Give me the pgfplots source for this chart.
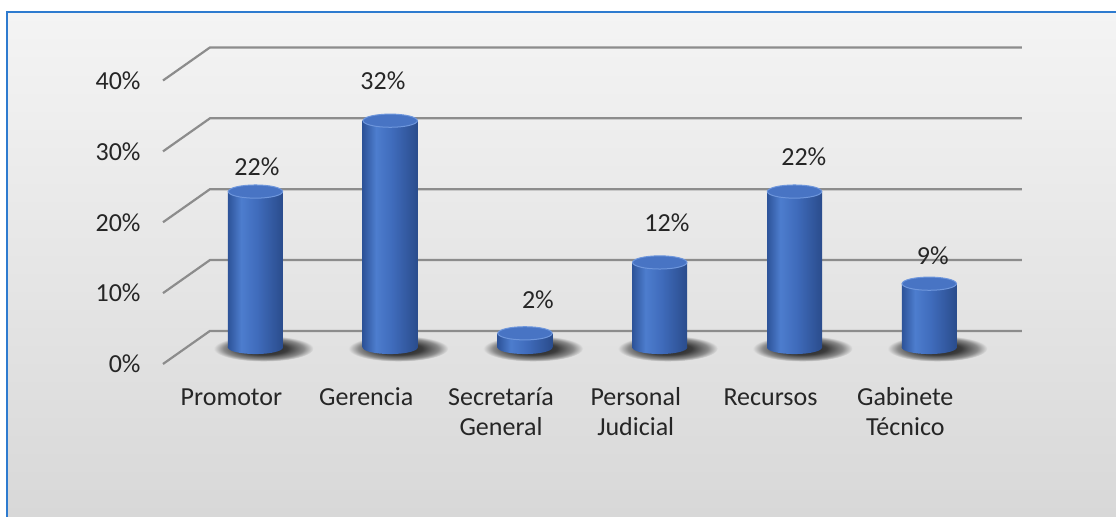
\documentclass[border=0pt]{standalone}
\usepackage{pgfplots}
\usepackage{pgfplotstable}
\pgfplotsset{compat=1.18}
\usepackage{fontspec}
\setmainfont{Carlito}
\definecolor{cylA}{HTML}{2D5399}
\definecolor{cylC}{HTML}{4D7DCE}
\definecolor{cylB}{HTML}{3F6BBB}
\definecolor{cylD}{HTML}{2A4C8C}
\definecolor{topcol}{HTML}{4874C4}
\definecolor{toprim}{HTML}{6E96DC}
\definecolor{bgtop}{HTML}{F4F4F4}
\definecolor{bgbot}{HTML}{D8D8D8}
\definecolor{bgmid}{HTML}{E1E1E1}
\definecolor{shA}{HTML}{1E1E1E}
\definecolor{shB}{HTML}{3C3C3C}
\definecolor{shC}{HTML}{8A8A8A}
\definecolor{gridcol}{HTML}{8C8C8C}
\definecolor{framecol}{HTML}{2E7BCF}
\definecolor{txt}{HTML}{262626}
\pgfdeclarehorizontalshading{cyl}{100bp}{color(0bp)=(cylA); color(25bp)=(cylA); color(37bp)=(cylC); color(52bp)=(cylB); color(75bp)=(cylD); color(100bp)=(cylD)}
\pgfdeclareradialshading{shad}{\pgfpointorigin}{color(0bp)=(shA); color(12bp)=(shB); color(20bp)=(shC); color(25bp)=(bgmid); color(50bp)=(bgmid)}
\pgfdeclareplotmark{shadowmark}{%
  \pgfpathellipse{\pgfpointorigin}{\pgfqpoint{25pt}{0pt}}{\pgfqpoint{0pt}{6.5pt}}%
  \pgfshadepath{shad}{0}%
  \pgfusepath{}%
}
\pgfdeclareplotmark{cylbottom}{%
  \pgfpathmoveto{\pgfqpoint{-13.75pt}{0.6pt}}%
  \pgfpathlineto{\pgfqpoint{-13.75pt}{0pt}}%
  \pgfpatharc{180}{360}{13.75pt and 3.3pt}%
  \pgfpathlineto{\pgfqpoint{13.75pt}{0.6pt}}%
  \pgfpathclose
  \pgfshadepath{cyl}{0}%
  \pgfusepath{}%
}
\pgfdeclareplotmark{cyltop}{%
  \pgfpathellipse{\pgfpointorigin}{\pgfqpoint{13.6pt}{0pt}}{\pgfqpoint{0pt}{3.3pt}}%
  \pgfusepathqfillstroke
}
\pgfplotstableread{
x y
0 22
1 32
2 2
3 12
4 22
5 9
}\bars
\pgfplotstableread{
x y
0.06 -0.15
1.06 -0.15
2.06 -0.15
3.06 -0.15
4.06 -0.15
5.06 -0.15
}\shadows
\pgfplotstableread{
x y
0 0
1 0
2 0
3 0
4 0
5 0
}\bases
\pgfplotstableread{
x y lab
0.011 25.47 22
0.946 37.60 32
2.096 6.70 2
3.053 17.57 12
4.069 26.88 22
5.026 12.91 9
}\labs
\pgfplotstableread{
x y
-0.686 -2.33
-0.338 2.33
5.688 2.33
nan nan
-0.686 7.67
-0.338 12.33
5.688 12.33
nan nan
-0.686 17.67
-0.338 22.33
5.688 22.33
nan nan
-0.686 27.67
-0.338 32.33
5.688 32.33
nan nan
-0.686 37.67
-0.338 42.33
5.688 42.33
}\grid
\begin{document}
\begin{tikzpicture}
\useasboundingbox (0pt,0pt) rectangle (558pt,258.5pt);
\fill[white] (0pt,0pt) rectangle (558pt,258.5pt);
\shade[top color=bgtop, bottom color=bgbot] (3.5pt,0pt) rectangle (558pt,252.5pt);
\draw[framecol, line width=1pt] (3.5pt,0pt) -- (3.5pt,252.5pt) -- (558pt,252.5pt);
\begin{axis}[
  at={(81.5pt,76.5pt)}, anchor=south west,
  scale only axis, width=429.5pt, height=158.5pt,
  xmin=-0.686, xmax=5.688, ymin=-2.33, ymax=42.4,
  clip=false, clip marker paths=true,
  axis line style={draw=none},
  major tick length=0pt, tick style={draw=none},
  xtick={-0.178,0.822,1.822,2.822,3.822,4.822},
  xticklabels={{\strut Promotor},{\strut Gerencia},{\strut Secretaría\\General},{\strut Personal\\Judicial},{\strut Recursos},{\strut Gabinete\\Técnico}},
  xticklabel style={align=center, anchor=north, yshift=-6.6pt, font=\fontsize{13}{15}\selectfont, text=txt},
  ytick={-2.33,7.67,17.67,27.67,37.67},
  yticklabels={0\%,10\%,20\%,30\%,40\%},
  yticklabel style={anchor=east, xshift=-7.7pt, font=\fontsize{13}{15}\selectfont, text=txt},
  unbounded coords=jump,
]
\addplot[gridcol, line width=1.1pt] table {\grid};
\addplot[only marks, mark=shadowmark] table {\shadows};
\addplot[ybar, bar width=27.5pt, draw=none, shade, shading=cyl] coordinates {(0,22)};
\addplot[ybar, bar width=27.5pt, draw=none, shade, shading=cyl] coordinates {(1,32)};
\addplot[ybar, bar width=27.5pt, draw=none, shade, shading=cyl] coordinates {(2,2)};
\addplot[ybar, bar width=27.5pt, draw=none, shade, shading=cyl] coordinates {(3,12)};
\addplot[ybar, bar width=27.5pt, draw=none, shade, shading=cyl] coordinates {(4,22)};
\addplot[ybar, bar width=27.5pt, draw=none, shade, shading=cyl] coordinates {(5,9)};
\addplot[only marks, mark=cylbottom] table {\bases};
\addplot[only marks, mark=cyltop, mark options={fill=topcol, draw=toprim, line width=0.5pt}] table {\bars};
\addplot[draw=none, mark=none, nodes near coords={\pgfplotspointmeta\%}, point meta=explicit symbolic,
  every node near coord/.style={anchor=center, inner sep=0pt, font=\fontsize{13}{15}\selectfont, text=txt}]
  table[meta=lab] {\labs};
\end{axis}
\end{tikzpicture}
\end{document}
